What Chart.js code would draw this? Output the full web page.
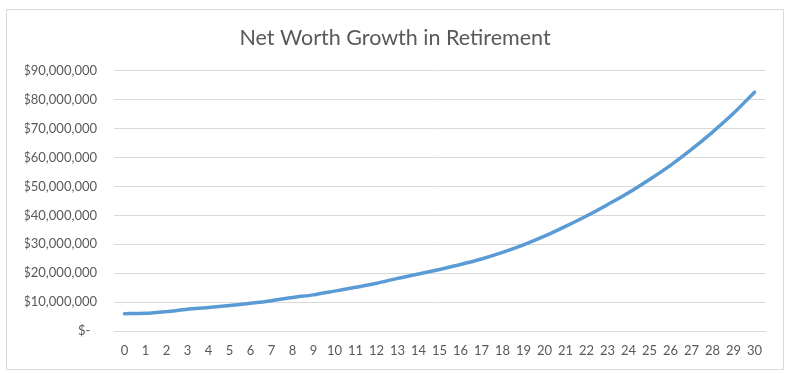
<!DOCTYPE html>
<html>
<head>
<meta charset="utf-8">
<script src="https://cdn.jsdelivr.net/npm/chart.js@4"></script>
<style>
  html, body { margin: 0; padding: 0; background: #fff; }
  #frame {
    position: absolute;
    left: 6px;
    top: 9px;
    width: 776px;
    height: 359px;
    border: 1px solid #d9d9d9;
    background: #fff;
  }
  #frame canvas { display: block; }
</style>
</head>
<body>
<div id="frame">
  <canvas id="netWorthChart" width="776" height="359"></canvas>
</div>
<script>
const years = ['0', '1', '2', '3', '4', '5', '6', '7', '8', '9', '10', '11', '12', '13', '14', '15',
  '16', '17', '18', '19', '20', '21', '22', '23', '24', '25', '26', '27', '28', '29', '30'];

// net worth at the end of each year (dollars)
const netWorth = [
  6000000, 6100000, 6700000, 7500000, 8100000, 8800000, 9600000, 10500000,
  11600000, 12500000, 13800000, 15100000, 16500000, 18200000, 19700000, 21300000,
  23000000, 24900000, 27200000, 29800000, 32800000, 36200000, 39800000, 43700000,
  47800000, 52400000, 57300000, 62800000, 68800000, 75300000, 82600000
];

const yTicks = [0, 10000000, 20000000, 30000000, 40000000, 50000000, 60000000, 70000000, 80000000, 90000000];

const textColor = '#595959';
const gridColor = '#d9d9d9';

function formatDollars(value) {
  if (value === 0) return '$-  ';
  return '$' + value.toLocaleString('en-US');
}

const ctx = document.getElementById('netWorthChart').getContext('2d');

new Chart(ctx, {
  type: 'line',
  data: {
    labels: years,
    datasets: [{
      label: 'Net Worth',
      data: netWorth,
      borderColor: '#5b9bd5',
      borderWidth: 3.5,
      borderCapStyle: 'round',
      borderJoinStyle: 'round',
      pointRadius: 0,
      tension: 0.3,
      fill: false
    }]
  },
  options: {
    responsive: false,
    animation: false,
    layout: {
      // equal side padding keeps the title centred on the frame
      padding: { top: 15, right: 18, bottom: 0, left: 18 }
    },
    plugins: {
      legend: { display: false },
      tooltip: { enabled: false },
      title: {
        display: true,
        text: 'Net Worth Growth in Retirement',
        color: textColor,
        font: { family: 'Lato', size: 21.5, weight: 'normal' },
        padding: { top: 0, bottom: 20 }
      }
    },
    scales: {
      x: {
        offset: true,
        grid: { display: false, drawTicks: false },
        border: { display: true, color: gridColor, width: 1 },
        ticks: {
          color: textColor,
          font: { family: 'Lato', size: 13 },
          padding: 12,
          maxRotation: 0,
          autoSkip: false
        },
        afterFit: (scale) => { scale.height = 38; }
      },
      y: {
        min: 0,
        max: 90000000,
        afterBuildTicks: (scale) => {
          scale.ticks = yTicks.map(v => ({ value: v }));
        },
        grid: { color: gridColor, lineWidth: 1, drawTicks: false },
        border: { display: false },
        ticks: {
          color: textColor,
          font: { family: 'Lato', size: 13 },
          padding: 17,
          callback: (value) => formatDollars(value)
        },
        afterFit: (scale) => { scale.width = 89; }
      }
    }
  }
});
</script>
</body>
</html>
